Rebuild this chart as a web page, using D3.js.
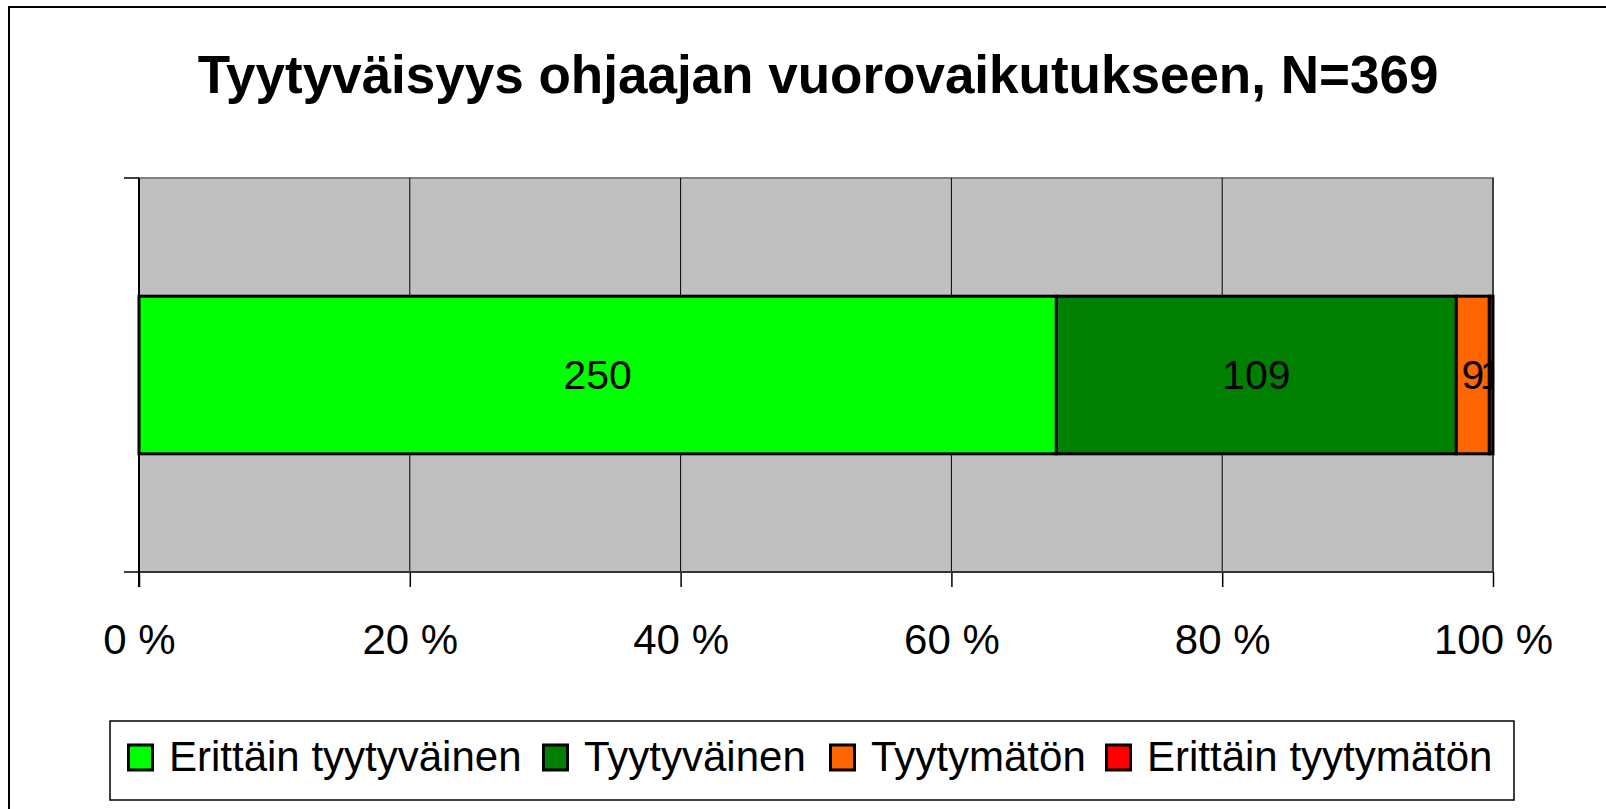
<!DOCTYPE html>
<html>
<head>
<meta charset="utf-8">
<script src="https://cdn.jsdelivr.net/npm/d3@7"></script>
<style>
  body { margin: 0; background: #fff; }
  svg { display: block; font-family: "Liberation Sans", Arial, sans-serif; }
</style>
</head>
<body>
<div id="chart"></div>
<script>
var w = 1606,
    h = 809;

// data
var categories = ["Erittäin tyytyväinen", "Tyytyväinen", "Tyytymätön", "Erittäin tyytymätön"];
var counts = [250, 109, 9, 1];
var colors = ["#00ff00", "#008000", "#ff6600", "#ff0000"];
var tickValues = [0, 0.2, 0.4, 0.6, 0.8, 1];
var titleText = "Tyytyväisyys ohjaajan vuorovaikutukseen, N=369";

var plot = { left: 139, right: 1493, top: 178, bottom: 572 };

var svg = d3.select("#chart").append("svg")
    .attr("width", w)
    .attr("height", h);

// outer chart border (runs off the right and bottom)
svg.append("rect")
    .attr("x", 9).attr("y", 7)
    .attr("width", 1700).attr("height", 900)
    .attr("fill", "#fff")
    .attr("stroke", "#000")
    .attr("stroke-width", 2);

svg.append("text")
    .attr("x", 818)
    .attr("y", 93)
    .attr("text-anchor", "middle")
    .style("font-weight", "bold")
    .style("font-size", "53px")
    .text(titleText);

var x = d3.scaleLinear().domain([0, 1]).range([plot.left, plot.right]);
var y = d3.scaleBand().domain(["row"])
    .range([plot.top, plot.bottom])
    .paddingInner(0.6).paddingOuter(0.3);

svg.append("defs").append("clipPath")
    .attr("id", "plotclip")
    .append("rect")
    .attr("x", plot.left).attr("y", plot.top)
    .attr("width", plot.right - plot.left)
    .attr("height", plot.bottom - plot.top);

// plot area
svg.append("rect")
    .attr("x", plot.left).attr("y", plot.top)
    .attr("width", plot.right - plot.left)
    .attr("height", plot.bottom - plot.top)
    .attr("fill", "#c0c0c0")
    .attr("stroke", "#808080")
    .attr("stroke-width", 2);

// gridlines
svg.selectAll(".grid")
    .data(tickValues.slice(1))
    .enter().append("line")
    .attr("class", "grid")
    .attr("x1", function(d) { return x(d); })
    .attr("x2", function(d) { return x(d); })
    .attr("y1", plot.top).attr("y2", plot.bottom)
    .attr("stroke", "#000")
    .attr("stroke-width", 1);

// stacked bar
var row = { key: "row" };
categories.forEach(function(c, i) { row[c] = counts[i]; });
var series = d3.stack().keys(categories).offset(d3.stackOffsetExpand)([row]);

svg.append("g").selectAll("rect")
    .data(series)
    .enter().append("rect")
    .attr("x", function(d) { return x(d[0][0]); })
    .attr("y", y("row"))
    .attr("width", function(d) { return x(d[0][1]) - x(d[0][0]); })
    .attr("height", y.bandwidth())
    .attr("fill", function(d, i) { return colors[i]; })
    .attr("stroke", "#000")
    .attr("stroke-width", 3);

svg.append("g")
    .attr("clip-path", "url(#plotclip)")
    .selectAll("text")
    .data(series)
    .enter().append("text")
    .attr("x", function(d) { return (x(d[0][0]) + x(d[0][1])) / 2; })
    .attr("y", y("row") + y.bandwidth() / 2)
    .attr("dy", "0.33em")
    .attr("text-anchor", "middle")
    .style("font-size", "41px")
    .text(function(d, i) { return counts[i]; });

// value axis
var xAxis = d3.axisBottom(x)
    .tickValues(tickValues)
    .tickSize(15)
    .tickPadding(37)
    .tickFormat(function(d) { return Math.round(d * 100) + " %"; });

var gx = svg.append("g")
    .attr("transform", "translate(0," + plot.bottom + ")")
    .call(xAxis);
gx.select(".domain").remove();
gx.selectAll("line").attr("stroke", "#000").attr("stroke-width", 1.5);
gx.selectAll("text")
    .attr("fill", "#000")
    .style("font-size", "42px")
    .style("font-family", "'Liberation Sans', Arial, sans-serif");

svg.append("line")
    .attr("x1", plot.left).attr("x2", plot.right)
    .attr("y1", plot.bottom).attr("y2", plot.bottom)
    .attr("stroke", "#333").attr("stroke-width", 2);

// category axis
svg.append("line")
    .attr("x1", plot.left).attr("x2", plot.left)
    .attr("y1", plot.top).attr("y2", plot.bottom + 15)
    .attr("stroke", "#000").attr("stroke-width", 2);
svg.selectAll(".ctick")
    .data([plot.top, plot.bottom])
    .enter().append("line")
    .attr("x1", plot.left - 15).attr("x2", plot.left)
    .attr("y1", function(d) { return d; }).attr("y2", function(d) { return d; })
    .attr("stroke", "#000").attr("stroke-width", 1.5);

// legend
var legend = svg.append("g");
legend.append("rect")
    .attr("x", 110).attr("y", 721)
    .attr("width", 1404).attr("height", 79)
    .attr("fill", "#fff")
    .attr("stroke", "#000")
    .attr("stroke-width", 1.5);

var legendX = [127, 542, 829, 1105];
var items = legend.selectAll(".item")
    .data(categories)
    .enter().append("g")
    .attr("class", "item")
    .attr("transform", function(d, i) { return "translate(" + legendX[i] + ",0)"; });

items.append("rect")
    .attr("x", 1.5).attr("y", 745)
    .attr("width", 24).attr("height", 25)
    .attr("fill", function(d, i) { return colors[i]; })
    .attr("stroke", "#000")
    .attr("stroke-width", 3);

items.append("text")
    .attr("x", 42)
    .attr("y", 771)
    .style("font-size", "42px")
    .text(function(d) { return d; });
</script>
</body>
</html>
